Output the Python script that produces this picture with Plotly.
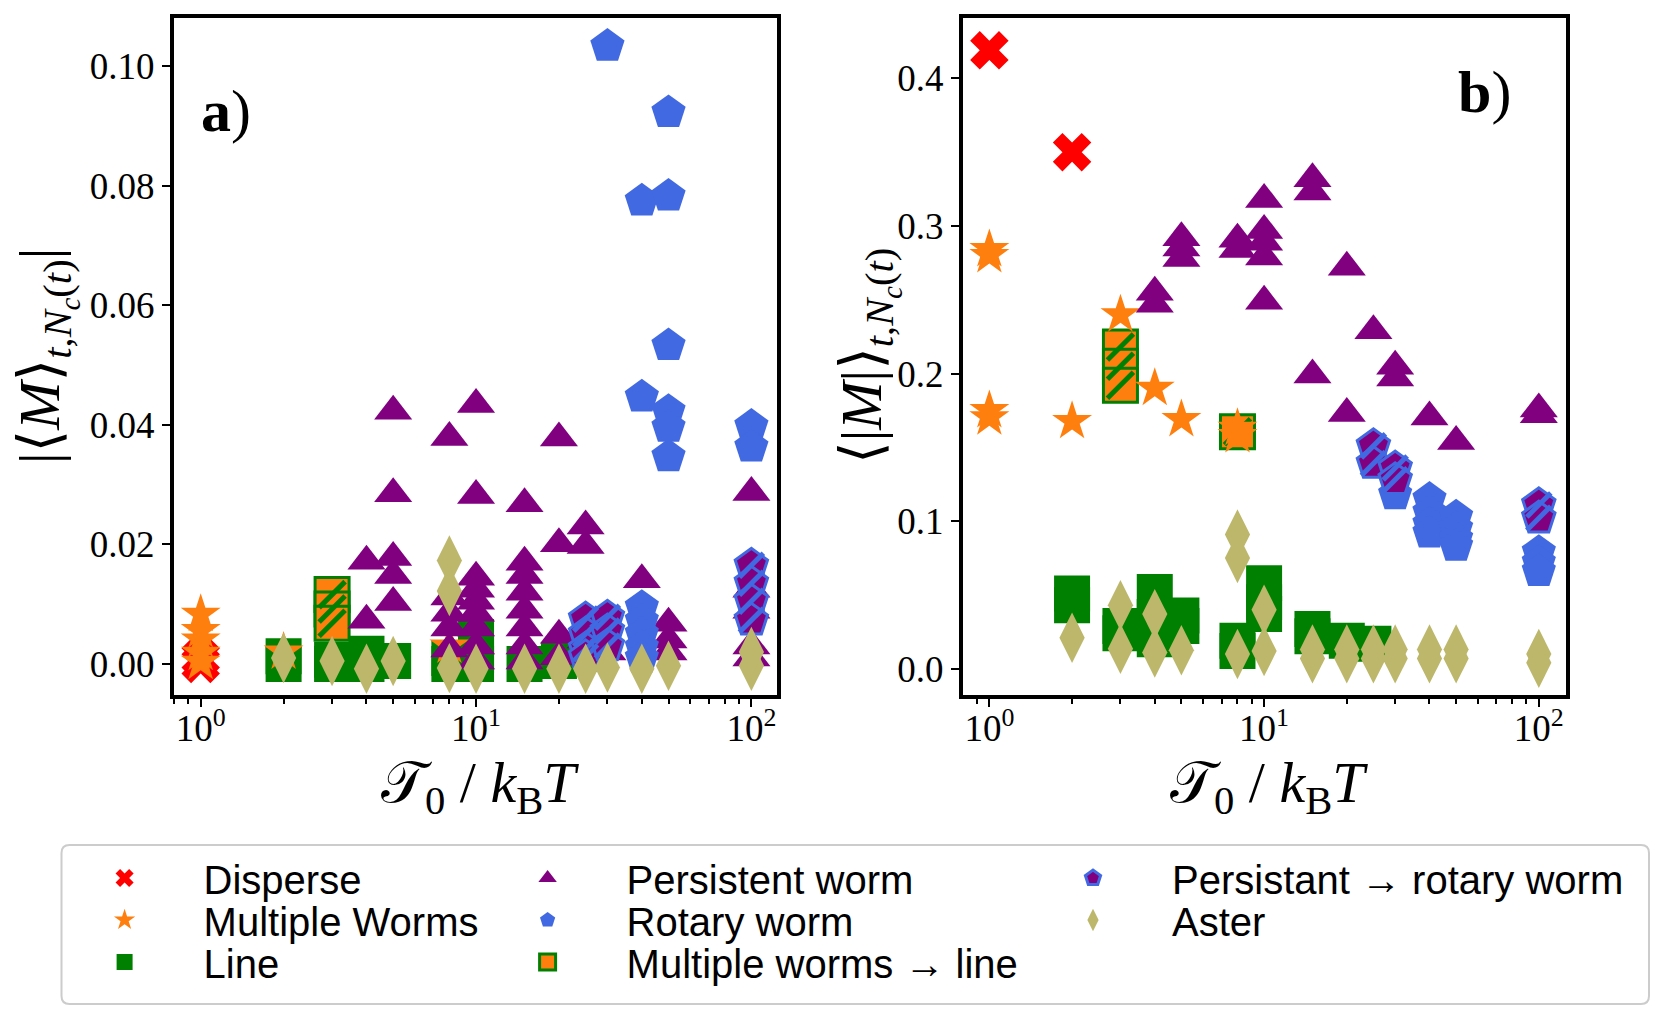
import plotly.graph_objects as go

# ---------------- data: panel a ----------------
disperse_a_x = [1, 1]
disperse_a_y = [0.0, 0.001]

multi_a_x = [1, 1, 1, 1, 1, 2, 8]
multi_a_y = [0.0083, 0.0056, 0.004, 0.0018, 0.0003, 0.002, 0.003]

line_a_x = [2, 2, 3, 3, 4, 4, 5, 8, 8, 10, 10, 10, 15, 20]
line_a_y = [0.0013, 0.0, 0.0007, 0.0, 0.0017, 0.0, 0.0005, 0.001, 0.0, 0.0045, 0.0015, 0.0, 0.0, 0.0005]

mline_a_x = [3, 3, 3]
mline_a_y = [0.0116, 0.0092, 0.0068]

pers_a_x = [4, 4,
            5, 5, 5, 5, 5,
            8, 8, 8, 8, 8,
            10, 10, 10, 10, 10, 10, 10, 10, 10,
            15, 15, 15, 15, 15, 15, 15, 15,
            20, 20, 20, 20,
            25, 25, 25,
            30,
            40,
            50, 50, 50,
            100, 100, 100, 100, 100]
pers_a_y = [0.0172, 0.0073,
            0.0423, 0.0285, 0.0178, 0.0148, 0.0103,
            0.0379, 0.0112, 0.0085, 0.006, 0.0025,
            0.0434, 0.0282, 0.0145, 0.0125, 0.0105, 0.0085, 0.006, 0.003, 0.0005,
            0.0268, 0.017, 0.0148, 0.012, 0.009, 0.006, 0.003, 0.0005,
            0.0378, 0.0201, 0.0048, 0.0012,
            0.0231, 0.0198, 0.004,
            0.002,
            0.0141,
            0.0068, 0.004, 0.002,
            0.0287, 0.0125, 0.009, 0.003, 0.001]

rot_a_x = [30, 50, 40, 50, 50, 40, 50, 50, 50, 100, 100, 40, 40, 40, 40, 40]
rot_a_y = [0.1034, 0.0923, 0.0775, 0.0783, 0.0533, 0.0447, 0.0423, 0.0396, 0.0347,
           0.0398, 0.0363, 0.0095, 0.0072, 0.005, 0.0028, 0.001]

prot_a_x = [25, 25, 25, 25, 30, 30, 30, 100, 100, 100, 100]
prot_a_y = [0.0075, 0.005, 0.0025, 0.0012, 0.0078, 0.0055, 0.003, 0.0165, 0.0135, 0.0105, 0.0073]

aster_a_x = [2, 3, 4, 5, 8, 8, 8, 10, 15, 20, 25, 30, 40, 50, 100, 100]
aster_a_y = [0.001, 0.0005, -0.0008, 0.0005, 0.0173, 0.0122, -0.0007, -0.0008, -0.0008,
             -0.0008, -0.0008, -0.0006, -0.0008, -0.0003, -0.0003, 0.002]

# ---------------- data: panel b ----------------
disperse_b_x = [1, 2]
disperse_b_y = [0.419, 0.350]

multi_b_x = [1, 1, 1, 1, 2, 3, 4, 5, 8, 8]
multi_b_y = [0.284, 0.280, 0.175, 0.170, 0.1676, 0.2398, 0.190, 0.1688, 0.163, 0.158]

line_b_x = [2, 2, 3, 3, 4, 4, 4, 5, 5, 8, 8, 10, 10, 10, 15, 15, 20, 25]
line_b_y = [0.051, 0.043, 0.029, 0.024, 0.052, 0.035, 0.020, 0.036, 0.029, 0.019, 0.012,
            0.058, 0.045, 0.037, 0.027, 0.022, 0.019, 0.017]

mline_b_x = [3, 3, 3, 8]
mline_b_y = [0.218, 0.205, 0.192, 0.1606]

pers_b_x = [4, 4, 5, 5, 5, 8, 8, 10, 10, 10, 10, 10, 15, 15, 15, 20, 20, 25, 30, 30, 40, 50, 100, 100]
pers_b_y = [0.255, 0.247, 0.292, 0.285, 0.278, 0.291, 0.284, 0.318, 0.297, 0.289, 0.279, 0.249,
            0.332, 0.323, 0.199, 0.272, 0.173, 0.229, 0.205, 0.197, 0.1705, 0.154, 0.176, 0.172]

rot_b_x = [30, 40, 40, 40, 40, 50, 50, 50, 50, 100, 100, 100]
rot_b_y = [0.118, 0.115, 0.106, 0.098, 0.092, 0.103, 0.095, 0.088, 0.083, 0.079, 0.072, 0.066]

prot_b_x = [25, 25, 30, 30, 100, 100]
prot_b_y = [0.151, 0.139, 0.136, 0.128, 0.111, 0.102]

aster_b_x = [2, 3, 3, 4, 4, 5, 8, 8, 8, 10, 10, 15, 15, 20, 20, 25, 25, 30, 30, 40, 40, 50, 50, 100, 100]
aster_b_y = [0.021, 0.043, 0.0135, 0.037, 0.011, 0.0125, 0.091, 0.075, 0.010, 0.040, 0.012,
             0.013, 0.007, 0.013, 0.007, 0.013, 0.007, 0.013, 0.007, 0.013, 0.007, 0.013, 0.007,
             0.010, 0.004]

x_tickvals = [1, 10, 100]
x_ticktext = ["10<sup>0</sup>", "10<sup>1</sup>", "10<sup>2</sup>"]
x_minor = [0.8, 0.9, 2, 3, 4, 5, 6, 7, 8, 9, 20, 30, 40, 50, 60, 70, 80, 90]

# ---------------- styles ----------------
RED = "#ff0000"
ORANGE = "#ff7f0e"
GREEN = "#008000"
PURPLE = "#800080"
BLUE = "#4169e1"
KHAKI = "#bdb76b"

# page body has an 8px margin: figure is drawn 8px in, so size it to fit the window
OFF = 8
W, H = 1660 - 2 * OFF, 1018 - 2 * OFF


def PX(x):  # window pixel -> paper x
    return (x - OFF) / W


def PY(y):  # window pixel -> paper y
    return 1 - (y - OFF) / H


SERIF = "Liberation Serif, DejaVu Serif, serif"
SANS = "Liberation Sans, Arial, sans-serif"

fig = go.Figure()

col_x = [124.6, 547.6, 1093]
row_y = [878, 920, 962]
legend_slot = {
    "Disperse": ("legend", 0, 0),
    "Multiple Worms": ("legend2", 0, 1),
    "Line": ("legend3", 0, 2),
    "Persistent worm": ("legend4", 1, 0),
    "Rotary worm": ("legend5", 1, 1),
    "Multiple worms \u2192 line": ("legend6", 1, 2),
    "Persistant \u2192 rotary worm": ("legend7", 2, 0),
    "Aster": ("legend8", 2, 1),
}


def add(x, y, xa, ya, name, marker, show):
    lg = legend_slot[name][0]
    fig.add_trace(go.Scatter(
        x=x, y=y, mode="markers", name=name, marker=marker,
        xaxis=xa, yaxis=ya, showlegend=show, legend=lg, hoverinfo="skip"))


def overlay(x, y, xa, ya, name, size, color, width):
    fig.add_trace(go.Scatter(
        x=x, y=y, mode="markers", name=name,
        marker=dict(symbol="line-ne", size=size, line=dict(color=color, width=width)),
        xaxis=xa, yaxis=ya, showlegend=False, hoverinfo="skip"))


def panel(xa, ya, show, d):
    add(d["dx"], d["dy"], xa, ya, "Disperse",
        dict(symbol="x", size=34, color=RED, line=dict(width=0)), show)
    add(d["lx"], d["ly"], xa, ya, "Line",
        dict(symbol="square", size=36, color=GREEN, line=dict(width=0)), show)
    add(d["mlx"], d["mly"], xa, ya, "Multiple worms \u2192 line",
        dict(symbol="square", size=34, color=ORANGE, line=dict(color=GREEN, width=3)), show)
    overlay(d["mlx"], d["mly"], xa, ya, "Multiple worms \u2192 line", 26, GREEN, 5)
    add(d["mx"], d["my"], xa, ya, "Multiple Worms",
        dict(symbol="star", size=30, color=ORANGE, line=dict(width=0)), show)
    add(d["px"], d["py"], xa, ya, "Persistent worm",
        dict(symbol="triangle-up", size=33, color=PURPLE, line=dict(width=0)), show)
    add(d["rx"], d["ry"], xa, ya, "Rotary worm",
        dict(symbol="pentagon", size=36, color=BLUE, line=dict(width=0)), show)
    add(d["prx"], d["pry"], xa, ya, "Persistant \u2192 rotary worm",
        dict(symbol="pentagon", size=34, color=PURPLE, line=dict(color=BLUE, width=3)), show)
    overlay(d["prx"], d["pry"], xa, ya, "Persistant \u2192 rotary worm", 24, BLUE, 5)
    add(d["ax"], d["ay"], xa, ya, "Aster",
        dict(symbol="diamond-tall", size=36, color=KHAKI, line=dict(width=0)), show)


panel("x", "y", True, dict(dx=disperse_a_x, dy=disperse_a_y, lx=line_a_x, ly=line_a_y,
                           mlx=mline_a_x, mly=mline_a_y, mx=multi_a_x, my=multi_a_y,
                           px=pers_a_x, py=pers_a_y, rx=rot_a_x, ry=rot_a_y,
                           prx=prot_a_x, pry=prot_a_y, ax=aster_a_x, ay=aster_a_y))
panel("x2", "y2", False, dict(dx=disperse_b_x, dy=disperse_b_y, lx=line_b_x, ly=line_b_y,
                              mlx=mline_b_x, mly=mline_b_y, mx=multi_b_x, my=multi_b_y,
                              px=pers_b_x, py=pers_b_y, rx=rot_b_x, ry=rot_b_y,
                              prx=prot_b_x, pry=prot_b_y, ax=aster_b_x, ay=aster_b_y))

ydom = [PY(695), PY(18)]

axis_common = dict(showline=True, mirror=True, linecolor="black", linewidth=4,
                   ticks="outside", ticklen=8, tickwidth=2, tickcolor="black",
                   showgrid=False, zeroline=False,
                   tickfont=dict(family=SERIF, size=37, color="black"))

xa_common = dict(type="log", tickvals=x_tickvals, ticktext=x_ticktext, ticklabelstandoff=-10,
                 minor=dict(ticks="outside", ticklen=5, tickwidth=1.5, tickcolor="black",
                            tickvals=x_minor, showgrid=False),
                 **axis_common)

layout_legends = {}
for name, (lg, c, r) in legend_slot.items():
    layout_legends[lg] = dict(
        x=PX(col_x[c] - 79), y=PY(row_y[r]), xanchor="left", yanchor="middle",
        bgcolor="rgba(0,0,0,0)", borderwidth=0, itemwidth=148,
        font=dict(family=SANS, size=40, color="black"))

# rounded legend frame (paper coords)
x0, x1 = PX(61.5), PX(1649)
yt, yb = PY(845), PY(1004)
rx, ry = 8 / W, 8 / H
frame_path = (f"M{x0+rx},{yt} L{x1-rx},{yt} Q{x1},{yt} {x1},{yt-ry} L{x1},{yb+ry} "
              f"Q{x1},{yb} {x1-rx},{yb} L{x0+rx},{yb} Q{x0},{yb} {x0},{yb+ry} "
              f"L{x0},{yt-ry} Q{x0},{yt} {x0+rx},{yt} Z")

ytitle_a = "|\u27e8<i>M</i>\u27e9<sub><i>t</i>,<i>N<sub>c</sub></i>(<i>t</i>)</sub>|"
ytitle_b = "\u27e8|<i>M</i>|\u27e9<sub><i>t</i>,<i>N<sub>c</sub></i>(<i>t</i>)</sub>"
xtitle = "\U0001D4AF<sub>0</sub> / <i>k</i><sub>B</sub><i>T</i>"

annotations = [
    dict(text=ytitle_a, x=PX(46), y=PY(356), xref="paper", yref="paper",
         textangle=-90, showarrow=False, xanchor="center", yanchor="middle",
         font=dict(family=SERIF, size=58, color="black")),
    dict(text=ytitle_b, x=PX(868), y=PY(356), xref="paper", yref="paper",
         textangle=-90, showarrow=False, xanchor="center", yanchor="middle",
         font=dict(family=SERIF, size=58, color="black")),
    dict(text=xtitle, x=PX(480), y=PY(786), xref="paper", yref="paper",
         showarrow=False, xanchor="center", yanchor="middle",
         font=dict(family=SERIF, size=58, color="black")),
    dict(text=xtitle, x=PX(1269), y=PY(786), xref="paper", yref="paper",
         showarrow=False, xanchor="center", yanchor="middle",
         font=dict(family=SERIF, size=58, color="black")),
    dict(text="<b>a</b>)", x=PX(226), y=PY(111), xref="paper", yref="paper",
         showarrow=False, xanchor="center", yanchor="middle",
         font=dict(family=SERIF, size=60, color="black")),
    dict(text="<b>b</b>)", x=PX(1484), y=PY(92), xref="paper", yref="paper",
         showarrow=False, xanchor="center", yanchor="middle",
         font=dict(family=SERIF, size=60, color="black")),
]

fig.update_layout(
    width=W, height=H,
    margin=dict(l=0, r=0, t=0, b=0),
    paper_bgcolor="white", plot_bgcolor="white",
    xaxis=dict(domain=[PX(174), PX(777)], range=[-0.097, 2.093], anchor="y", **xa_common),
    yaxis=dict(domain=ydom, range=[-0.0052, 0.1081], anchor="x",
               tickvals=[0, 0.02, 0.04, 0.06, 0.08, 0.10], tickformat=".2f", **axis_common),
    xaxis2=dict(domain=[PX(963), PX(1566)], range=[-0.096, 2.099], anchor="y2", **xa_common),
    yaxis2=dict(domain=ydom, range=[-0.0178, 0.4409], anchor="x2",
                tickvals=[0, 0.1, 0.2, 0.3, 0.4], tickformat=".1f", **axis_common),
    annotations=annotations,
    shapes=[dict(type="path", path=frame_path, xref="paper", yref="paper",
                 line=dict(color="#cccccc", width=2), fillcolor="rgba(0,0,0,0)", layer="below")],
    **layout_legends,
)

fig.write_html("out.html", config={"displayModeBar": False})
